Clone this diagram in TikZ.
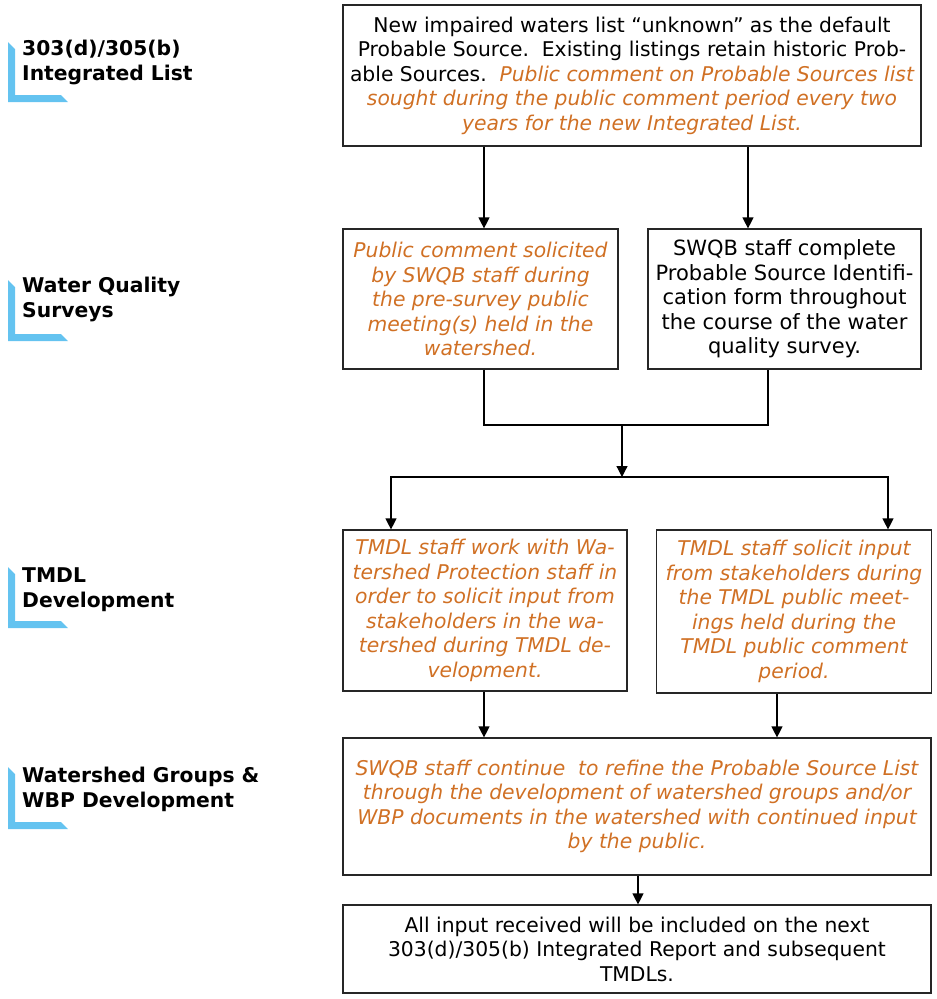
\documentclass[tikz,border=0pt]{standalone}
\usepackage{fontspec}
\setmainfont{DejaVu Sans}
\usetikzlibrary{arrows.meta}
\definecolor{orng}{RGB}{208,112,36}
\definecolor{lblue}{RGB}{100,195,240}
\newcommand{\ot}[1]{{\color{orng}\itshape #1}}
\begin{document}
\begin{tikzpicture}[x=1pt,y=-1pt,
  box/.style={draw=black!85, line width=1.2pt, inner sep=0pt, align=center},
  otxt/.style={font=\fontsize{20.3}{24.5}\selectfont\itshape, text=orng},
  vtxt/.style={font=\fontsize{21}{24.5}\selectfont},
  ntxt/.style={font=\fontsize{20.3}{24.5}\selectfont},
  lbl/.style={font=\fontsize{20.3}{24.5}\selectfont\bfseries, align=left, anchor=base west, inner sep=0pt},
  corner/.style={fill=lblue, draw=none},
  arr/.style={-{Triangle[length=11pt,width=11pt]}, line width=1.2pt},
  conn/.style={line width=1.2pt}]
\useasboundingbox (0,0) rectangle (937,999);

% left labels with blue corner marks
\fill[corner] (8,42) -- (15,49) -- (15,95) -- (61,95) -- (68,102) -- (8,102) -- cycle;
\node[lbl] (l1) at (22,80) {303(d)/305(b)\\Integrated List};
\fill[corner] (8,280) -- (15,287) -- (15,334) -- (61,334) -- (68,341) -- (8,341) -- cycle;
\node[lbl] (l2) at (22,317) {Water Quality\\Surveys};
\fill[corner] (8,567) -- (15,574) -- (15,621) -- (61,621) -- (68,628) -- (8,628) -- cycle;
\node[lbl] (l3) at (22,607) {TMDL\\Development};
\fill[corner] (8,767) -- (15,774) -- (15,822) -- (61,822) -- (68,829) -- (8,829) -- cycle;
\node[lbl] (l4) at (22,807) {Watershed Groups \&\\WBP Development};

% boxes
\node[box, ntxt, minimum width=578pt, minimum height=141pt] (b1) at (632,75.5)
 {New impaired waters list “unknown” as the default\\
  Probable Source.\ \ Existing listings retain historic Prob-\\
  able Sources.\ \ \ot{Public comment on Probable Sources list}\\
  \ot{sought during the public comment period every two}\\
  \ot{years for the new Integrated List.}};
\node[box, otxt, minimum width=275pt, minimum height=140pt] (b2l) at (480.5,299)
 {Public comment solicited\\by SWQB staff during\\the pre-survey public\\meeting(s) held in the\\watershed.};
\node[box, vtxt, minimum width=273pt, minimum height=140pt] (b2r) at (784.5,299)
 {SWQB staff complete\\Probable Source Identifi-\\cation form throughout\\the course of the water\\quality survey.};
\node[box, otxt, minimum width=284pt, minimum height=161pt] (b3l) at (485,610.5)
 {TMDL staff work with Wa-\\tershed Protection staff in\\order to solicit input from\\stakeholders in the wa-\\tershed during TMDL de-\\velopment.};
\node[box, otxt, minimum width=275pt, minimum height=163pt] (b3r) at (794,611.5)
 {TMDL staff solicit input\\from stakeholders during\\the TMDL public meet-\\ings held during the\\TMDL public comment\\period.};
\node[box, otxt, minimum width=588pt, minimum height=137pt] (b4) at (637,806.5)
 {SWQB staff continue\ \ to refine the Probable Source List\\through the development of watershed groups and/or\\WBP documents in the watershed with continued input\\by the public.};
\node[box, ntxt, minimum width=588pt, minimum height=88pt] (b5) at (637,949)
 {All input received will be included on the next\\303(d)/305(b) Integrated Report and subsequent\\TMDLs.};

% connector guide coordinates
\coordinate (xa) at (484,0);
\coordinate (xb) at (748,0);
\coordinate (xc) at (768,0);
\coordinate (j1) at (622,425);
\coordinate (j2) at (622,477);
\coordinate (xd) at (391,0);
\coordinate (xe) at (888,0);
\coordinate (xf) at (777,0);
\coordinate (xg) at (638,0);

\draw[arr] (b1.south -| xa) -- (b2l.north -| xa);
\draw[arr] (b1.south -| xb) -- (b2r.north -| xb);
\draw[conn] (b2l.south -| xa) |- (j1) -| (b2r.south -| xc);
\draw[arr] (j1) -- (j2);
\draw[arr] (j2) -| (b3l.north -| xd);
\draw[arr] (j2) -| (b3r.north -| xe);
\draw[arr] (b3l.south -| xa) -- (b4.north -| xa);
\draw[arr] (b3r.south -| xf) -- (b4.north -| xf);
\draw[arr] (b4.south -| xg) -- (b5.north -| xg);
\end{tikzpicture}
\end{document}
